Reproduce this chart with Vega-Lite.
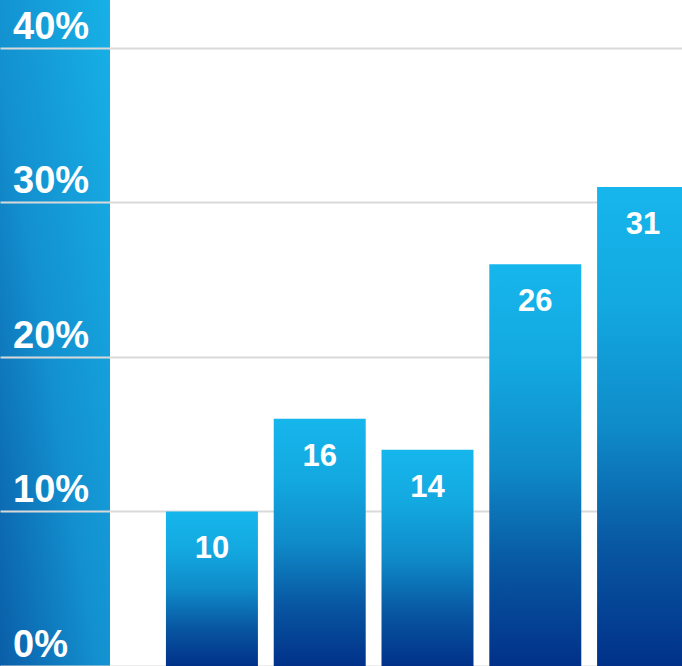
{
  "$schema": "https://vega.github.io/schema/vega-lite/v6.json",
  "padding": 0,
  "spacing": 0,
  "background": "white",
  "config": {"view": {"stroke": null}, "font": "Liberation Sans"},
  "hconcat": [
    {
      "width": 110,
      "height": 666,
      "data": {"values": [
        {"v": 0, "label": "0%"},
        {"v": 10, "label": "10%"},
        {"v": 20, "label": "20%"},
        {"v": 30, "label": "30%"},
        {"v": 40, "label": "40%"}
      ]},
      "layer": [
        {
          "data": {"values": [{}]},
          "mark": {
            "type": "rect",
            "fill": {
              "gradient": "linear", "x1": 0, "y1": 1, "x2": 1, "y2": 0,
              "stops": [
                {"offset": 0, "color": "#0a5ea8"},
                {"offset": 0.45, "color": "#1390cf"},
                {"offset": 1, "color": "#17b1e7"}
              ]
            }
          },
          "encoding": {
            "x": {"value": 0},
            "x2": {"value": "width"},
            "y": {"value": 0},
            "y2": {"value": "height"}
          }
        },
        {
          "mark": {"type": "text", "align": "left", "baseline": "alphabetic", "dy": -9, "fontSize": 38, "fontWeight": "bold", "color": "white", "font": "Liberation Sans"},
          "encoding": {
            "x": {"value": 13},
            "y": {
              "field": "v", "type": "quantitative",
              "scale": {"domain": [0, 43.1], "nice": false, "zero": true},
              "axis": {"title": null, "labels": false, "ticks": false, "domain": false, "grid": true, "gridColor": "#d9d9d9", "gridWidth": 2, "zindex": 1, "values": [0, 10, 20, 30, 40]}
            },
            "text": {"field": "label"}
          }
        }
      ]
    },
    {
      "width": 572,
      "height": 666,
      "data": {"values": [
        {"cat": "1", "value": 10},
        {"cat": "2", "value": 16},
        {"cat": "3", "value": 14},
        {"cat": "4", "value": 26},
        {"cat": "5", "value": 31}
      ]},
      "encoding": {
        "x": {
          "field": "cat", "type": "nominal", "sort": null,
          "scale": {"range": [0, 635], "paddingInner": 0.1466, "paddingOuter": 0.519},
          "axis": null
        },
        "y": {
          "field": "value", "type": "quantitative",
          "scale": {"domain": [0, 43.1], "nice": false, "zero": true},
          "axis": {"title": null, "labels": false, "ticks": false, "domain": false, "grid": true, "gridColor": "#d9d9d9", "gridWidth": 2, "values": [0, 10, 20, 30, 40]}
        }
      },
      "layer": [
        {
          "mark": {
            "type": "bar",
            "clip": true,
            "fill": {
              "gradient": "linear", "x1": 0, "y1": 0, "x2": 0, "y2": 1,
              "stops": [
                {"offset": 0, "color": "#16b6ec"},
                {"offset": 0.25, "color": "#13a8e0"},
                {"offset": 0.5, "color": "#0f8bc9"},
                {"offset": 0.75, "color": "#0857a2"},
                {"offset": 1, "color": "#013189"}
              ]
            }
          }
        },
        {
          "mark": {"type": "text", "clip": true, "align": "center", "baseline": "alphabetic", "dy": 47, "fontSize": 31, "fontWeight": "bold", "color": "white", "font": "Liberation Sans"},
          "encoding": {"text": {"field": "value", "type": "quantitative"}}
        }
      ]
    }
  ]
}
